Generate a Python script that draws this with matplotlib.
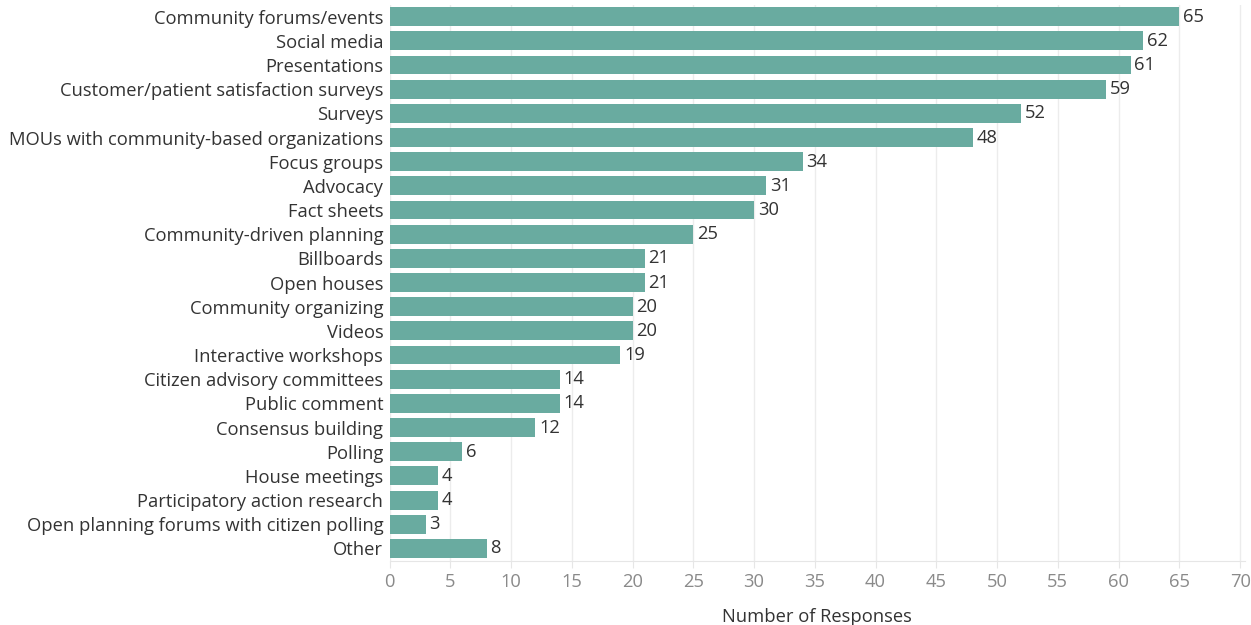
import matplotlib
matplotlib.use("Agg")
import matplotlib.pyplot as plt

categories = [
    "Community forums/events", "Social media", "Presentations",
    "Customer/patient satisfaction surveys", "Surveys",
    "MOUs with community-based organizations", "Focus groups", "Advocacy",
    "Fact sheets", "Community-driven planning", "Billboards", "Open houses",
    "Community organizing", "Videos", "Interactive workshops",
    "Citizen advisory committees", "Public comment", "Consensus building",
    "Polling", "House meetings", "Participatory action research",
    "Open planning forums with citizen polling", "Other",
]
responses = [65, 62, 61, 59, 52, 48, 34, 31, 30, 25, 21, 21, 20, 20, 19,
             14, 14, 12, 6, 4, 4, 3, 8]
x_ticks = list(range(0, 75, 5))

plt.rcParams["font.family"] = ["Open Sans", "DejaVu Sans"]
FS = 13.2

fig = plt.figure(figsize=(12.51, 6.25), dpi=100)
# axis spans x = 0..70.4 across pixels 389.5..1245
ax = fig.add_axes([389.5 / 1251, 1 - 560.5 / 625, 855.5 / 1251, (560.5 - 4.6) / 625])

pos = list(range(len(categories)))
ax.barh(pos, responses, height=0.78, color="#69aba0", zorder=2)
for y, v in zip(pos, responses):
    ax.text(v + 0.3, y, str(v), va="center", ha="left", fontsize=FS,
            color="#333333")

ax.set_ylim(len(categories) - 0.5, -0.5)
ax.set_xlim(0, 70.4)
ax.set_yticks(pos)
ax.set_yticklabels(categories, fontsize=FS, color="#333333")
ax.set_xticks(x_ticks)
ax.set_xticklabels([str(t) for t in x_ticks], fontsize=FS, color="#8a8a8a")
ax.tick_params(axis="y", length=0, pad=4.5)
ax.tick_params(axis="x", length=5, color="#e6e6e6", pad=4)
ax.grid(axis="x", color="#ececec", linewidth=1, zorder=0)

for side in ["top", "right", "left"]:
    ax.spines[side].set_visible(False)
ax.spines["bottom"].set_color("#e6e6e6")

ax.set_xlabel("Number of Responses", fontsize=FS, color="#333333", labelpad=12)

fig.savefig("out.png", dpi=100)
